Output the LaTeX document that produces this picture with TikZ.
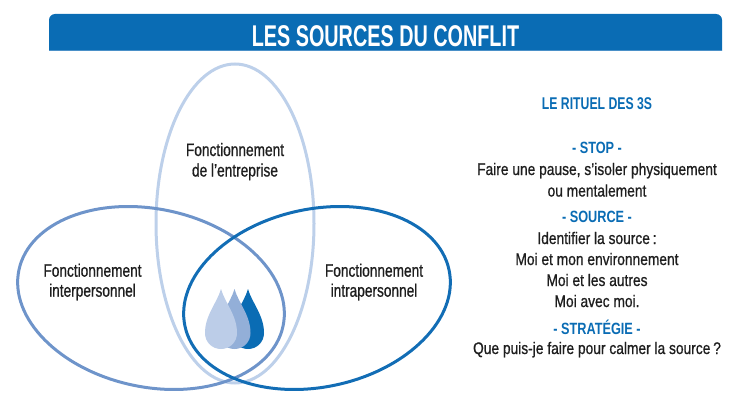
\documentclass[tikz,border=0pt]{standalone}
\usepackage{fontspec}
\setmainfont{Liberation Sans}[FakeStretch=0.82,FakeBold=0.8]
\newfontfamily\labelfont{Liberation Sans}[FakeStretch=0.76,FakeBold=0.8]
\newfontfamily\headfont{Liberation Sans}[FakeStretch=0.78]
\newfontfamily\ritfont{Liberation Sans}[FakeStretch=0.72]
\newfontfamily\titlefont{Liberation Sans}[FakeStretch=0.66]
\definecolor{barblue}{HTML}{0A6CB4}
\definecolor{barline}{HTML}{4A90C8}
\definecolor{ellA}{HTML}{BDD0EA}
\definecolor{ellB}{HTML}{6E94CA}
\definecolor{ellC}{HTML}{126DB5}
\definecolor{dropA}{HTML}{BCCDE8}
\definecolor{dropB}{HTML}{93AFD8}
\definecolor{dropC}{HTML}{0A6CB4}
\definecolor{txt}{HTML}{1E1E1E}
\tikzset{
  body/.style={anchor=base, inner sep=0pt, text=txt, font=\fontsize{16.8}{20}\selectfont},
  lab/.style={anchor=base, inner sep=0pt, text=txt, font=\labelfont\fontsize{18}{21}\selectfont},
  head/.style={anchor=base, inner sep=0pt, text=barblue, font=\headfont\fontsize{16.3}{19}\selectfont\bfseries},
  ring/.style={line width=3pt}
}
\newcommand{\dropshape}[3]{%
  \fill[#3] (#1,#2) .. controls ++(4,14) and ++(0,-18) .. ++(16,44)
    .. controls ++(0,9) and ++(9,0) .. ++(-16,16)
    .. controls ++(-9,0) and ++(0,9) .. ++(-16,-16)
    .. controls ++(0,-18) and ++(-4,14) .. ++(16,-44) -- cycle;}
\begin{document}
\begin{tikzpicture}[x=1pt,y=-1pt]
\useasboundingbox (0,0) rectangle (734,412);
% title bar
\fill[barblue, rounded corners=6pt] (49,14) rectangle (722,58);
\fill[white] (40,51) rectangle (730,62);
\fill[barline] (49,49.6) rectangle (722,51);
\node[anchor=base, inner sep=0pt, text=white, font=\titlefont\fontsize{30}{32}\selectfont\bfseries] (title) at (385.5,46.5) {LES SOURCES DU CONFLIT};
% ellipses
\draw[ring, ellA] (235,223.5) ellipse [x radius=79, y radius=159.5];
\draw[ring, ellB, rotate around={-12:(151,298)}] (151,298) ellipse [x radius=135, y radius=89];
\draw[ring, ellC, rotate around={12:(317,298)}] (317,298) ellipse [x radius=135, y radius=89];
% drops
\dropshape{248}{289}{dropC}
\dropshape{234.5}{289}{dropB}
\dropshape{221}{289}{dropA}
% ellipse labels
\node[lab] (e1) at (235,156) {Fonctionnement};
\node[lab] (e2) at (235,176.5) {de l’entreprise};
\node[lab] (l1) at (92.5,276.7) {Fonctionnement};
\node[lab] (l2) at (92.5,296.7) {interpersonnel};
\node[lab] (r1) at (374,276.7) {Fonctionnement};
\node[lab] (r2) at (374,296.7) {intrapersonnel};
% right text
\node[anchor=base, inner sep=0pt, text=barblue, font=\ritfont\fontsize{17}{20}\selectfont\bfseries] (rit) at (597,110) {LE RITUEL DES 3S};
\node[head] (h1) at (597,153.3) {- STOP -};
\node[body] (t1) at (597,175) {Faire une pause, s’isoler physiquement};
\node[body] (t2) at (597,196.5) {ou mentalement};
\node[head] (h2) at (597,222) {- SOURCE -};
\node[body] (t3) at (597,244) {Identifier la source\,:};
\node[body] (t4) at (597,265) {Moi et mon environnement};
\node[body] (t5) at (597,286) {Moi et les autres};
\node[body] (t6) at (597,307) {Moi avec moi.};
\node[head] (h3) at (597,334) {- STRATÉGIE -};
\node[body] (t7) at (597,354) {Que puis-je faire pour calmer la source\,?};
\end{tikzpicture}
\end{document}
